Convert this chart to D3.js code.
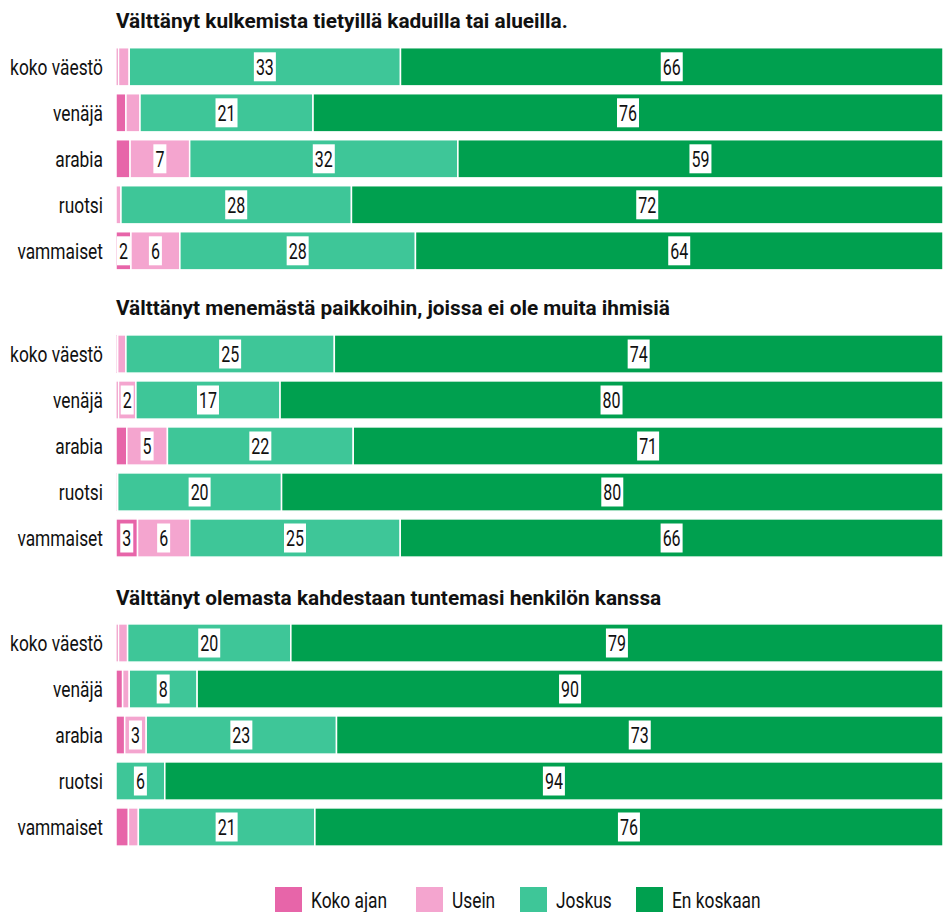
<!DOCTYPE html>
<html><head><meta charset="utf-8">
<script src="https://cdn.jsdelivr.net/npm/d3@7"></script>
<style>
html,body{margin:0;padding:0;background:#fff;}
svg{display:block;}
text{font-family:Roboto,"Noto Sans",sans-serif;}
</style></head>
<body>
<svg id="chart" width="943" height="912"></svg>
<script>
const seriesNames = ["Koko ajan", "Usein", "Joskus", "En koskaan"];
const seriesColors = ["#E765A9", "#F4A5CF", "#3EC698", "#00A04F"];
const groups = ["koko väestö", "venäjä", "arabia", "ruotsi", "vammaiset"];
const panelTitles = [
  "Välttänyt kulkemista tietyillä kaduilla tai alueilla.",
  "Välttänyt menemästä paikkoihin, joissa ei ole muita ihmisiä",
  "Välttänyt olemasta kahdestaan tuntemasi henkilön kanssa"
];
// values per panel: rows = groups, cols = series
const panel1 = [
  [0.3, 1.3, 32.8, 65.6],
  [1.2, 1.7, 20.9, 76.1],
  [1.7, 7.2, 32.4, 58.6],
  [0.0, 0.6, 27.9, 71.6],
  [1.8, 5.9, 28.4, 63.6]
];
const panel2 = [
  [0.2, 1.0, 25.2, 73.6],
  [0.3, 2.1, 17.4, 80.0],
  [1.3, 4.9, 22.4, 71.1],
  [0.0, 0.2, 19.8, 79.9],
  [2.6, 6.3, 25.4, 65.5]
];
const panel3 = [
  [0.3, 1.1, 19.7, 78.7],
  [0.8, 0.8, 8.2, 90.1],
  [1.05, 2.6, 23.0, 73.3],
  [0.0, 0.0, 5.9, 94.1],
  [1.5, 1.2, 21.3, 75.8]
];
const panels = [panel1, panel2, panel3];
const labelMin = 1.75;

const svg = d3.select("#chart");
const x = d3.scaleLinear().domain([0, 1]).range([116, 943]);
const panelTop = [43.8, 331, 620];
const titleY = [20, 307, 597];

// measure condensing factors
function measure(str, size, weight) {
  const t = svg.append("text").attr("font-size", size).attr("font-weight", weight).text(str);
  const w = t.node().getComputedTextLength();
  t.remove();
  return w;
}
const sxN = 93 / measure("koko väestö", 22, "normal");
const sxB = 452 / measure(panelTitles[0], 21, "bold");
const sxV = 18 / measure("33", 22, "normal");

function ctext(parent, px, py, str, size, weight, anchor, sx) {
  const g = parent.append("g").attr("transform", `translate(${px},${py}) scale(${sx},1)`);
  const t = g.append("text").attr("x", 0).attr("y", 0).attr("dy", "0.36em")
    .attr("text-anchor", anchor).attr("font-size", size).attr("font-weight", weight)
    .attr("fill", "#111").text(str);
  return {g, t};
}

const stack = d3.stack().keys(d3.range(4)).offset(d3.stackOffsetExpand);

panels.forEach((pdata, pi) => {
  const g = svg.append("g");
  const y = d3.scaleBand().domain(groups)
    .range([panelTop[pi], panelTop[pi] + 5 * 46]).paddingInner(0.17).paddingOuter(0.085);

  ctext(g, 116, titleY[pi], panelTitles[pi], 21, "bold", "start", sxB);

  groups.forEach(d => {
    ctext(g, 103, y(d) + y.bandwidth() / 2, d, 22, "normal", "end", sxN);
  });

  const rows = pdata.map(r => ({0: r[0], 1: r[1], 2: r[2], 3: r[3]}));
  const st = stack(rows);
  const labels = g.append("g");
  st.forEach((layer, si) => {
    layer.forEach((seg, ri) => {
      const v = pdata[ri][si];
      if (v <= 0) return;
      const x0 = x(seg[0]), x1 = x(seg[1]);
      const yy = y(groups[ri]);
      g.insert("rect", () => labels.node()).attr("x", x0).attr("y", yy)
        .attr("width", Math.max(0, x1 - x0)).attr("height", y.bandwidth())
        .attr("fill", seriesColors[si]).attr("stroke", "#fff").attr("stroke-width", 1.5);
      if (v >= labelMin) {
        const cx = (x0 + x1) / 2, cy = yy + y.bandwidth() / 2;
        const lab = String(Math.round(v));
        const w = measure(lab, 22, "normal") * sxV;
        labels.append("rect").attr("x", cx - w / 2 - 2).attr("y", cy - 14.5)
          .attr("width", w + 4).attr("height", 29).attr("fill", "#fff");
        ctext(labels, cx, cy, lab, 22, "normal", "middle", sxV);
      }
    });
  });
});

// legend
const legendX = [275, 416, 520, 636];
const lg = svg.append("g");
seriesNames.forEach((n, i) => {
  lg.append("rect").attr("x", legendX[i]).attr("y", 887).attr("width", 27).attr("height", 26)
    .attr("fill", seriesColors[i]);
  ctext(lg, legendX[i] + 36, 900, n, 22, "normal", "start", sxN);
});
</script>
</body></html>
